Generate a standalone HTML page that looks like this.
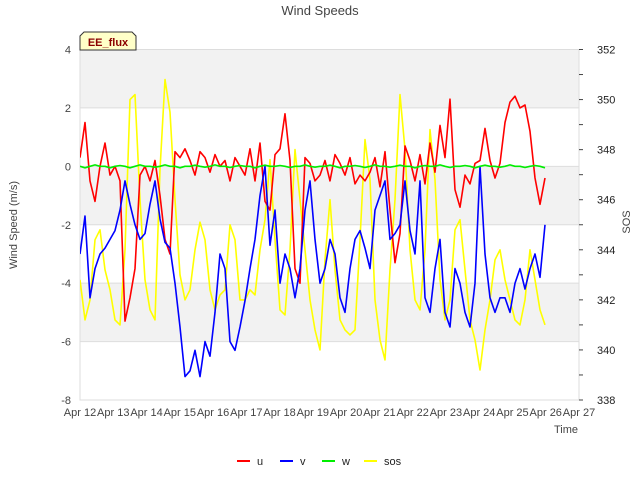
<!DOCTYPE html>
<html><head><meta charset="utf-8"><style>
body{margin:0;background:#fff}
svg{font-family:"Liberation Sans","DejaVu Sans",sans-serif}
</style></head><body>
<svg id="chart" width="640" height="480" xmlns="http://www.w3.org/2000/svg">
<g id="bg"></g>
<g id="axes"></g>
<clipPath id="clip"><rect x="80" y="49.5" width="500" height="350.5"/></clipPath>
<g id="series" clip-path="url(#clip)"></g>
<text x="320" y="15" text-anchor="middle" font-size="13" fill="#444">Wind Speeds</text>
<text transform="translate(17,225) rotate(-90)" text-anchor="middle" font-size="11" fill="#444">Wind Speed (m/s)</text>
<text transform="translate(630,222) rotate(-90)" text-anchor="middle" font-size="11" fill="#444">SOS</text>
<text x="578" y="433" text-anchor="end" font-size="11" fill="#444">Time</text>
<g>
<path d="M80,50 L80,36 L84,32 L132,32 L136,36 L136,50 Z" fill="#ffffc8" stroke="#333" stroke-width="1"/>
<text x="108" y="46" text-anchor="middle" font-size="11" font-weight="bold" fill="#8b0000">EE_flux</text>
</g>
<g id="legend"></g>
</svg>
<script>
const startDay = 0;
const stepDay = 0.1503;
const xTickLabels = ["Apr 12","Apr 13","Apr 14","Apr 15","Apr 16","Apr 17","Apr 18","Apr 19","Apr 20","Apr 21","Apr 22","Apr 23","Apr 24","Apr 25","Apr 26","Apr 27"];
const yTicks = [-8,-6,-4,-2,0,2,4];
const y2Ticks = [338,340,342,344,346,348,350,352];
const seriesNames = ["u","v","w","sos"];
const uVals = [0.3,1.5,-0.5,-1.2,0,0.8,-0.3,0,-0.5,-5.3,-4.5,-3.5,-0.3,0,-0.5,0.2,-1,-2.5,-3,0.5,0.3,0.6,0.2,-0.3,0.5,0.3,-0.2,0.4,0,0.2,-0.5,0.3,0,-0.3,0.6,-0.5,0.8,-1.2,-1.5,0.4,0.6,1.8,0.2,-3.5,-4,0.3,0.1,-0.5,-0.3,0.2,-0.5,0.4,0.1,-0.3,0.3,-0.6,-0.3,-0.5,-0.2,0.3,-0.7,0.5,-1.5,-3.3,-2.3,0.7,0.2,-0.5,0.4,-0.6,0.8,-0.2,1.4,0.3,2.3,-0.8,-1.4,-0.3,-0.6,0.1,0.2,1.3,0.2,-0.4,0.1,1.5,2.2,2.4,2,2.1,1.2,-0.4,-1.3,-0.4];
const vVals = [-3,-1.7,-4.5,-3.5,-3,-2.8,-2.5,-2.2,-1.5,-0.5,-1.3,-2,-2.5,-2.3,-1.3,-0.5,-1.8,-2.6,-2.8,-4,-5.5,-7.2,-7,-6.3,-7.2,-6,-6.5,-5,-3,-3.5,-6,-6.3,-5.5,-4.6,-3.5,-2.5,-1,0,-2.7,-1.5,-4,-3,-3.5,-4.5,-3.5,-1.5,-0.5,-2.5,-4,-3.5,-2.5,-3,-4.5,-5,-3.5,-2.5,-2.2,-2.8,-3.5,-1.5,-1,-0.5,-2.5,-2.3,-2,-0.5,-2.2,-3,-0.5,-4.5,-5,-3.5,-2.5,-5,-5.5,-3.5,-4,-5,-5.5,-4,0,-3,-4.5,-5,-4.5,-4.5,-5,-4,-3.5,-4.2,-3.5,-3,-3.8,-2];
const wVals = [0,-0.05,0,0.05,0,0,-0.05,0,0.03,0,-0.05,0,0.05,0,0,-0.03,0,0.05,0,0,-0.05,0,0,0.04,0,-0.03,0,0.05,0,0,-0.04,0,0.03,0,0,-0.05,0,0.04,0,0,0.03,0,-0.04,0,0,0.05,0,-0.03,0,0,0.04,0,-0.05,0,0,0.03,0,-0.04,0,0.05,0,0,-0.03,0,0.04,0,0,-0.05,0,0.03,0,0,0.05,0,-0.04,0,0,0.03,0,-0.05,0,0.04,0,0,-0.03,0,0.05,0,0,-0.04,0,0.03,0,-0.05];
const sosVals = [342.8,341.2,342,344.4,344.8,343.2,342.4,341.2,341,344,350,350.2,346,342.8,341.6,341.2,347.2,350.8,349.5,346,343,342,342.4,344,345.1,344.4,342.4,341.6,342.2,342.4,345,344.4,342,342,342.4,342.2,344,345.2,347.6,344.4,341.6,341.4,344,348,346,344,342,340.8,340,343.6,346,343.2,341.2,340.8,340.6,340.8,344.4,348.4,346.8,342,340.4,339.6,343.2,346,350.2,348,344,342,341.6,344,348.8,346.8,342.8,341.2,342,344.8,345.2,343.2,341.2,340.4,339.2,340.8,342,343.6,344,342.8,342,341.2,341,342,344,342.8,341.6,341];
const colors = ["#ff0000","#0000ff","#00ee00","#ffff00"];

const L=80,R=579,T=49.5,B=400;
const X=d=>L+(d-0)/15*(R-L);
const Y=v=>B-(v+8)/12*(B-T);
const Y2=v=>B-(v-338)/14*(B-T);
const NS="http://www.w3.org/2000/svg";
function mk(tag,parent){const e=document.createElementNS(NS,tag);parent.appendChild(e);return e;}
const bg=document.getElementById('bg'),ax=document.getElementById('axes'),sg=document.getElementById('series'),lg=document.getElementById('legend');

[[2,4],[-2,0],[-6,-4]].forEach(b=>{const r=mk('rect',bg);


r.setAttribute('x',L);r.setAttribute('y',Y(b[1]));r.setAttribute('width',R-L);r.setAttribute('height',Y(b[0])-Y(b[1]));r.setAttribute('fill','#f2f2f2');});
yTicks.forEach(v=>{const l=mk('line',ax);


l.setAttribute('x1',L);l.setAttribute('x2',R);l.setAttribute('y1',Y(v));l.setAttribute('y2',Y(v));l.setAttribute('stroke','#ddd');
const t=mk('text',ax);


t.setAttribute('x',L-9);t.setAttribute('y',Y(v)+4);t.setAttribute('text-anchor','end');t.setAttribute('font-size','11');t.setAttribute('fill','#444');t.textContent=v;});
const fr=mk('rect',ax);


fr.setAttribute('x',L);fr.setAttribute('y',T);fr.setAttribute('width',R-L);fr.setAttribute('height',B-T);fr.setAttribute('fill','none');fr.setAttribute('stroke','#ddd');
for(let v=338;v<=352;v++){const l=mk('line',ax);


l.setAttribute('x1',R);l.setAttribute('x2',R+4);l.setAttribute('y1',Y2(v));l.setAttribute('y2',Y2(v));l.setAttribute('stroke','#444');}
y2Ticks.forEach(v=>{const t=mk('text',ax);


t.setAttribute('x',R+18);t.setAttribute('y',Y2(v)+4);t.setAttribute('font-size','11');t.setAttribute('fill','#222');t.textContent=v;});
xTickLabels.forEach((s,i)=>{const t=mk('text',ax);


t.setAttribute('x',X(i));t.setAttribute('y',B+16);t.setAttribute('text-anchor','middle');t.setAttribute('font-size','11');t.setAttribute('fill','#444');t.textContent=s;});

function line(vals,yf,color,name){const p=mk('polyline',sg);


p.setAttribute('points',vals.map((v,i)=>X(startDay+i*stepDay).toFixed(1)+','+yf(v).toFixed(1)).join(' '));
p.setAttribute('fill','none');p.setAttribute('stroke',color);p.setAttribute('stroke-width','1.6');p.setAttribute('stroke-linejoin','round');}
line(sosVals,Y2,colors[3],'sos');
line(uVals,Y,colors[0],'u');
line(vVals,Y,colors[1],'v');
line(wVals,Y,colors[2],'w');

const lx=[237,280,322,364];
seriesNames.forEach((n,i)=>{const g=mk('g',lg);


const l=mk('line',g);l.setAttribute('x1',lx[i]);l.setAttribute('x2',lx[i]+13);l.setAttribute('y1',461);l.setAttribute('y2',461);l.setAttribute('stroke',colors[i]);l.setAttribute('stroke-width','2');
const t=mk('text',g);t.setAttribute('x',lx[i]+20);t.setAttribute('y',465);t.setAttribute('font-size','11');t.setAttribute('fill','#222');t.textContent=n;});
</script>
</body></html>
